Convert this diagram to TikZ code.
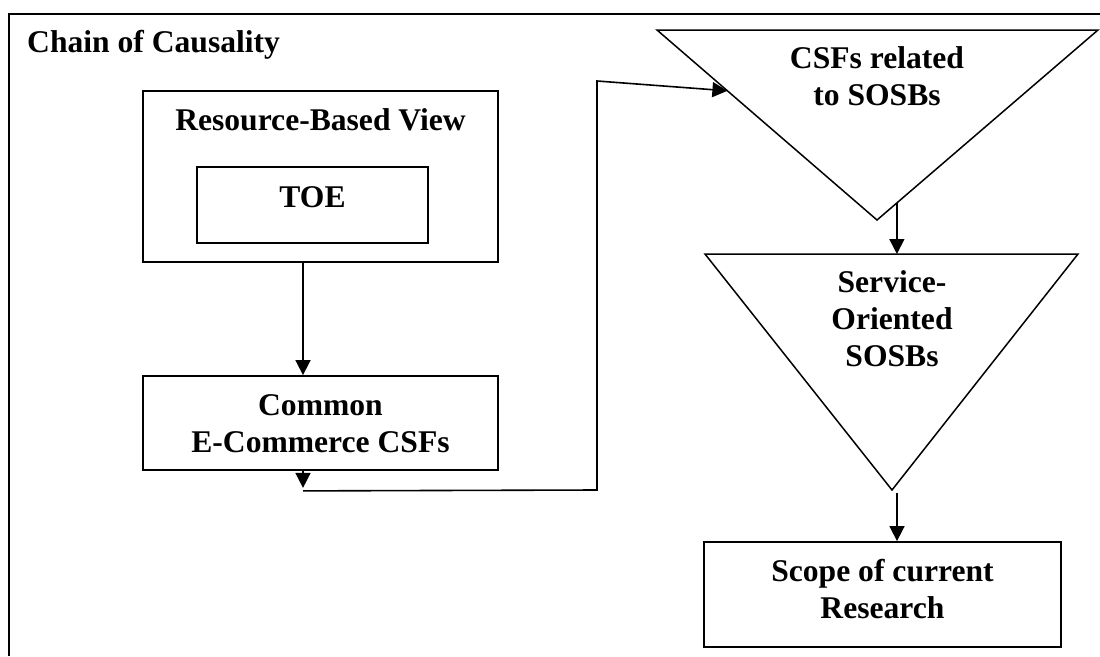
\documentclass[tikz,border=0pt]{standalone}
\usepackage{fontspec}
\setmainfont{Liberation Serif}
\usetikzlibrary{arrows.meta,calc}

\tikzset{
    box/.style={draw, line width=1.8pt, inner sep=0pt},
    lbl/.style={font=\fontsize{31.6}{37}\selectfont\bfseries, align=center, inner sep=0pt},
    arr/.style={line width=1.6pt, -{Triangle[length=15pt,width=15pt]}}
}

\newcommand{\drawfunnel}[4]{
    % inverted triangle: name, top left, top right, apex
    \coordinate (#1-l) at #2;
    \coordinate (#1-r) at #3;
    \coordinate (#1-c) at #4;
    \draw[line width=1.5pt] (#1-l) -- (#1-r) -- (#1-c) -- cycle;
}

\begin{document}
\begin{tikzpicture}[x=1pt, y=-1pt]
    \useasboundingbox (0,0) rectangle (1100,656);

    % outer frame (cut at the right and bottom)
    \draw[line width=2.8pt] (9,656) -- (9,14) -- (1100,14);
    \node[lbl, anchor=base west] (title) at (27,52) {Chain of Causality};

    % left column
    \node[box, minimum width=355pt, minimum height=171pt] (rbv) at (320.5,176.5) {};
    \node[lbl, anchor=base] (rbvtxt) at (320.5,130) {Resource-Based View};
    \node[box, minimum width=231pt, minimum height=76pt] (toe) at (312.5,205) {};
    \node[lbl, anchor=base] (toetxt) at (312.5,207) {TOE};

    \node[box, minimum width=355pt, minimum height=94pt] (ccsf) at (320.5,423) {};
    % base = last line
    \node[lbl, anchor=base] (ccsftxt) at (320.5,452) {Common\\E-Commerce CSFs};

    \draw[arr] ($(rbv.south)+(-17.5,0)$) -- ($(ccsf.north)+(-17.5,0)$);

    % right column
    \drawfunnel{sf}{(657,30)}{(1098,30)}{(877,220)}
    \node[lbl, anchor=base] (sftxt) at (877,105) {CSFs related\\to SOSBs};

    \drawfunnel{so}{(705,254)}{(1078,254)}{(892,490)}
    \node[lbl, anchor=base] (sotxt) at (892,366) {Service-\\Oriented\\SOSBs};

    \node[box, minimum width=357pt, minimum height=105pt] (scope) at (882.5,594.5) {};
    \node[lbl, anchor=base] (scopetxt) at (882.5,618) {Scope of current\\Research};

    \coordinate (sfout) at ($(sf-c)!0.09!(sf-r)$);
    \draw[arr] (sfout) -- (sfout |- so-l);
    \coordinate (soout) at ($(so-c)+(5,3)$);
    \draw[arr] (soout) -- (soout |- scope.north);

    % elbow from the common CSFs to the funnel
    \coordinate (drop) at ($(ccsf.south)+(-17.5,17)$);
    \coordinate (sfin) at ($(sf-l)!0.32!(sf-c)$);
    \draw[arr] ($(ccsf.south)+(-17.5,0)$) -- (drop);
    \draw[arr] ($(drop)+(0,3)$) -- (597,490) -- (597,81) -- (sfin);
\end{tikzpicture}
\end{document}
